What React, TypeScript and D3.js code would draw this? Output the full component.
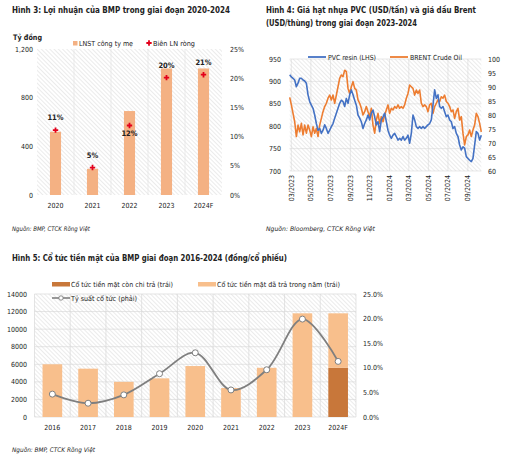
import React from 'react';
import * as d3 from 'd3';

// ---------- Chart 1 (Hình 3) ----------
const years1 = ['2020', '2021', '2022', '2023', '2024F'];
const profit1 = [520, 215, 690, 1040, 1040];
const margin1 = [11.1, 4.7, 11.9, 20.1, 20.6];
const marginLabels1 = ['11%', '5%', '12%', '20%', '21%'];
const marginLabelBelow1 = [false, false, true, false, false];
const leftTicks1 = [0, 400, 800, 1200];
const rightTicks1 = [0, 5, 10, 15, 20, 25];

// ---------- Chart 2 (Hình 4) ----------
const seriesStart2 = '2023-02-24';
const stepDays2 = 5.19;
const pvc2 = [
  915, 910, 907, 903, 888, 896, 907, 907, 903, 901, 896, 870, 855, 847, 840, 825, 806, 791, 795, 784,
  791, 803, 795, 784, 791, 799, 806, 818, 829, 840, 851, 858, 855, 844, 862, 851, 870, 881, 870, 858,
  847, 825, 818, 810, 795, 806, 814, 825, 814, 829, 836, 821, 803, 810, 788, 814, 821, 829, 810, 791,
  780, 773, 780, 784, 777, 769, 773, 769, 777, 769, 773, 780, 762, 784, 825, 814, 799, 795, 799, 795,
  799, 795, 799, 803, 806, 814, 847, 881, 862, 870, 844, 840, 844, 832, 821, 825, 814, 810, 795, 799,
  784, 777, 758, 747, 754, 751, 732, 728, 724, 721, 728, 758, 788, 784, 769, 780,
];
const brent2 = [
  86.3, 83.6, 80.6, 77.6, 72.3, 76.4, 74, 77, 72.9, 76.4, 73.5, 76.4, 74.6, 72.3, 75.8, 73.5, 75.2, 72.3, 76.4, 78.8,
  81.2, 83, 84.2, 86, 87.1, 85.4, 87.1, 84.2, 87.1, 90.1, 93.1, 94.3, 93.7, 96, 95.5, 89.5, 87.7, 90.1, 91.9, 89.5,
  88.9, 85.4, 84.2, 82.4, 80, 81.2, 83, 81.2, 79.4, 82.4, 76.4, 73.5, 78.2, 80.6, 77, 79.4, 77.6, 80, 81.8, 83.6,
  80.6, 82.4, 81.8, 83, 82.4, 83.6, 82.4, 83, 82.4, 83.6, 86, 87.7, 90.7, 90.1, 89.5, 87.1, 88.9, 87.7, 88.9, 84.2,
  83, 83.6, 83, 81.2, 83.6, 84.2, 80.6, 83, 84.2, 85.4, 84.8, 86.5, 86, 87.1, 84.8, 84.2, 83, 81.2, 81.8, 78.8,
  81.2, 82.4, 78.2, 79.4, 73.5, 69.3, 72.3, 72.9, 74.6, 72.3, 74.6, 76.4, 80.6, 79.4, 77, 74,
];
const leftTicks2 = [700, 750, 800, 850, 900, 950];
const rightTicks2 = [60, 65, 70, 75, 80, 85, 90, 95, 100];
const monthTicks2 = ['2023-03-01', '2023-05-01', '2023-07-01', '2023-09-01', '2023-11-01', '2024-01-01', '2024-03-01', '2024-05-01', '2024-07-01', '2024-09-01'];

// ---------- Chart 3 (Hình 5) ----------
const years3 = ['2016', '2017', '2018', '2019', '2020', '2021', '2022', '2023', '2024F'];
const remaining3 = [0, 0, 0, 0, 0, 0, 0, 0, 5600];
const paid3 = [6000, 5500, 4000, 4400, 5800, 3300, 5600, 11800, 6200];
const yield3 = [4.65, 2.8, 4.5, 8.8, 13.05, 5.5, 9.6, 19.9, 11.3];
const leftTicks3 = [0, 2000, 4000, 6000, 8000, 10000, 12000, 14000];
const rightTicks3 = [0, 5, 10, 15, 20, 25];

const FONT = "'Liberation Sans Narrow','DejaVu Sans Condensed',Roboto,'Noto Sans',sans-serif";
const TXT = '#222';
const GRID = '#d9d9d9';

function Hatch({ id }: { id: string }) {
  return (
    <pattern id={id} width="3" height="3" patternUnits="userSpaceOnUse" patternTransform="rotate(-45)">
      <rect width="3" height="3" fill="#ffffff" />
      <line x1="0" y1="0" x2="0" y2="3" stroke="#d4d4d4" strokeWidth="0.9" />
    </pattern>
  );
}

function Chart1() {
  const L = 37, R = 222, T = 49, B = 195;
  const x = d3.scaleBand<string>().domain(years1).range([L, R]);
  const y = d3.scaleLinear().domain([0, 1200]).range([B, T]);
  const yr = d3.scaleLinear().domain([0, 25]).range([B, T]);
  const bw = x.bandwidth() * 0.3;
  const marker = d3.symbol().type(d3.symbolCross).size(16)() as string;
  return (
    <g>
      <text x={12} y={13} fontSize={8.5} fontWeight="bold" fill={TXT} fontFamily={FONT} textLength={218} lengthAdjust="spacingAndGlyphs">Hình 3: Lợi nhuận của BMP trong giai đoạn 2020-2024</text>
      <rect x={L} y={T} width={R - L} height={B - T} fill="url(#hatch1)" />
      {years1.slice(1).map((d) => (
        <line key={d} x1={x(d)!} x2={x(d)!} y1={T} y2={B} stroke="#e6e6e6" strokeWidth={0.8} />
      ))}
      <text x={13} y={39.5} fontSize={7.5} fontWeight="bold" fill={TXT} fontFamily={FONT} textLength={29} lengthAdjust="spacingAndGlyphs">Tỷ đồng</text>
      <rect x={73} y={41} width={4.5} height={4.5} fill="#F4B183" />
      <text x={79} y={45.5} fontSize={7} fill={TXT} fontFamily={FONT} textLength={54} lengthAdjust="spacingAndGlyphs">LNST công ty mẹ</text>
      <path d={marker} transform="translate(149,43)" fill="#E3001B" />
      <text x={153} y={45.5} fontSize={7} fill={TXT} fontFamily={FONT} textLength={42} lengthAdjust="spacingAndGlyphs">Biên LN ròng</text>
      {profit1.map((v, i) => (
        <rect key={i} x={x(years1[i])! + x.bandwidth() / 2 - bw / 2} y={y(v)} width={bw} height={B - y(v)} fill="#F4B183" />
      ))}
      {margin1.map((v, i) => {
        const cx = x(years1[i])! + x.bandwidth() / 2;
        const cy = yr(v);
        return (
          <g key={i}>
            <path d={marker} transform={`translate(${cx},${cy})`} fill="#E3001B" />
            <text x={cx} y={marginLabelBelow1[i] ? cy + 10 : cy - 10} textAnchor="middle" fontSize={7.5} fontWeight="bold" fill={TXT} fontFamily={FONT}>{marginLabels1[i]}</text>
          </g>
        );
      })}
      {leftTicks1.map((t) => (
        <text key={t} x={33} y={y(t) + 2.5} textAnchor="end" fontSize={7} fill={TXT} fontFamily={FONT}>{d3.format(',')(t)}</text>
      ))}
      {rightTicks1.map((t) => (
        <text key={t} x={230} y={yr(t) + 2.5} fontSize={7} fill={TXT} fontFamily={FONT}>{t + '%'}</text>
      ))}
      {years1.map((d) => (
        <text key={d} x={x(d)! + x.bandwidth() / 2} y={207.5} textAnchor="middle" fontSize={7} fill={TXT} fontFamily={FONT}>{d}</text>
      ))}
      <text x={12} y={230.5} fontSize={6.3} fontStyle="italic" fill={TXT} fontFamily={FONT} textLength={78} lengthAdjust="spacingAndGlyphs">Nguồn: BMP, CTCK Rồng Việt</text>
    </g>
  );
}

function Chart2() {
  const L = 289.7, R = 481.3, T = 59, B = 171;
  const start = new Date(seriesStart2 + 'T00:00:00');
  const dates = pvc2.map((_, i) => new Date(start.getTime() + i * stepDays2 * 86400000));
  const x = d3.scaleTime().domain([dates[0], dates[dates.length - 1]]).range([L, R]);
  const y = d3.scaleLinear().domain([700, 950]).range([B, T]);
  const yr = d3.scaleLinear().domain([60, 100]).range([B, T]);
  const linePvc = d3.line<number>().x((_, i) => x(dates[i])).y((v) => y(v));
  const lineBrent = d3.line<number>().x((_, i) => x(dates[i])).y((v) => yr(v));
  const ticks = monthTicks2.map((s) => new Date(s + 'T00:00:00'));
  const fmt = d3.timeFormat('%m/%Y');
  return (
    <g>
      <text x={266} y={12.5} fontSize={8.5} fontWeight="bold" fill={TXT} fontFamily={FONT} textLength={210} lengthAdjust="spacingAndGlyphs">Hình 4: Giá hạt nhựa PVC (USD/tấn) và giá dầu Brent</text>
      <text x={266} y={26} fontSize={8.5} fontWeight="bold" fill={TXT} fontFamily={FONT} textLength={151} lengthAdjust="spacingAndGlyphs">(USD/thùng) trong giai đoạn 2023-2024</text>
      <rect x={L} y={T} width={R - L} height={B - T} fill="url(#hatch1)" />
      {leftTicks2.map((t) => (
        <line key={t} x1={L} x2={R} y1={y(t)} y2={y(t)} stroke={GRID} strokeWidth={0.6} />
      ))}
      {ticks.map((t, i) => (
        <line key={i} x1={x(t)} x2={x(t)} y1={T} y2={B} stroke={GRID} strokeWidth={0.6} />
      ))}
      <path d={lineBrent(brent2)!} fill="none" stroke="#ED7D31" strokeWidth={1.6} strokeLinejoin="round" />
      <path d={linePvc(pvc2)!} fill="none" stroke="#4472C4" strokeWidth={1.6} strokeLinejoin="round" />
      <line x1={308} x2={326} y1={57} y2={57} stroke="#4472C4" strokeWidth={1.8} />
      <text x={328} y={59.5} fontSize={7} fill={TXT} fontFamily={FONT} textLength={48} lengthAdjust="spacingAndGlyphs">PVC resin (LHS)</text>
      <line x1={390} x2={408} y1={57} y2={57} stroke="#ED7D31" strokeWidth={1.8} />
      <text x={410} y={59.5} fontSize={7} fill={TXT} fontFamily={FONT} textLength={52} lengthAdjust="spacingAndGlyphs">BRENT Crude Oil</text>
      {leftTicks2.map((t) => (
        <text key={t} x={281} y={y(t) + 2.5} textAnchor="end" fontSize={7} fill={TXT} fontFamily={FONT}>{t}</text>
      ))}
      {rightTicks2.map((t) => (
        <text key={t} x={488} y={yr(t) + 2.5} fontSize={7} fill={TXT} fontFamily={FONT}>{t}</text>
      ))}
      {ticks.map((t, i) => (
        <text key={i} transform={`translate(${x(t) + 2.4},175) rotate(-90)`} textAnchor="end" fontSize={7} fill={TXT} fontFamily={FONT}>{fmt(t)}</text>
      ))}
      <text x={266} y={230.5} fontSize={6.3} fontStyle="italic" fill={TXT} fontFamily={FONT} textLength={109} lengthAdjust="spacingAndGlyphs">Nguồn: Bloomberg, CTCK Rồng Việt</text>
    </g>
  );
}

function Chart3() {
  const L = 34.5, R = 356, T = 294, B = 417;
  const x = d3.scaleBand<string>().domain(years3).range([L, R]);
  const y = d3.scaleLinear().domain([0, 14000]).range([B, T]);
  const yr = d3.scaleLinear().domain([0, 25]).range([B, T]);
  const bw = x.bandwidth() * 0.55;
  const cx = (d: string) => x(d)! + x.bandwidth() / 2;
  const line = d3.line<number>().x((_, i) => cx(years3[i])).y((v) => yr(v)).curve(d3.curveCatmullRom.alpha(0.5));
  return (
    <g>
      <text x={12} y={261} fontSize={8.5} fontWeight="bold" fill={TXT} fontFamily={FONT} textLength={275} lengthAdjust="spacingAndGlyphs">Hình 5: Cổ tức tiền mặt của BMP giai đoạn 2016-2024 (đồng/cổ phiếu)</text>
      <rect x={L} y={T} width={R - L} height={B - T} fill="url(#hatch1)" />
      {leftTicks3.map((t) => (
        <line key={t} x1={L} x2={R} y1={y(t)} y2={y(t)} stroke={GRID} strokeWidth={0.7} />
      ))}
      {years3.map((d) => (
        <line key={d} x1={x(d)!} x2={x(d)!} y1={T} y2={B} stroke={GRID} strokeWidth={0.7} />
      ))}
      <line x1={R} x2={R} y1={T} y2={B} stroke={GRID} strokeWidth={0.7} />
      {years3.map((d, i) => (
        <g key={d}>
          {remaining3[i] > 0 && (
            <rect x={cx(d) - bw / 2} y={y(remaining3[i])} width={bw} height={B - y(remaining3[i])} fill="#C8773A" />
          )}
          <rect x={cx(d) - bw / 2} y={y(remaining3[i] + paid3[i])} width={bw} height={y(remaining3[i]) - y(remaining3[i] + paid3[i])} fill="#F8BF8C" />
        </g>
      ))}
      <path d={line(yield3)!} fill="none" stroke="#7F7F7F" strokeWidth={1.8} />
      {yield3.map((v, i) => (
        <circle key={i} cx={cx(years3[i])} cy={yr(v)} r={3} fill="#fff" stroke="#7F7F7F" strokeWidth={1} />
      ))}
      <rect x={52} y={282} width={18} height={4.5} fill="#C8773A" />
      <text x={71} y={286.5} fontSize={7} fill={TXT} fontFamily={FONT} textLength={102} lengthAdjust="spacingAndGlyphs">Cổ tức tiền mặt còn chi trả (trái)</text>
      <rect x={198} y={282} width={18} height={4.5} fill="#F8BF8C" />
      <text x={217} y={286.5} fontSize={7} fill={TXT} fontFamily={FONT} textLength={123} lengthAdjust="spacingAndGlyphs">Cổ tức tiền mặt đã trả trong năm (trái)</text>
      <line x1={52} x2={70} y1={298} y2={298} stroke="#7F7F7F" strokeWidth={1.6} />
      <circle cx={61} cy={298} r={2.2} fill="#fff" stroke="#7F7F7F" strokeWidth={0.9} />
      <text x={71} y={300.5} fontSize={7} fill={TXT} fontFamily={FONT} textLength={66} lengthAdjust="spacingAndGlyphs">Tỷ suất cổ tức (phải)</text>
      {leftTicks3.map((t) => (
        <text key={t} x={27} y={y(t) + 2.5} textAnchor="end" fontSize={7} fill={TXT} fontFamily={FONT}>{t}</text>
      ))}
      {rightTicks3.map((t) => (
        <text key={t} x={363} y={yr(t) + 2.5} fontSize={7} fill={TXT} fontFamily={FONT}>{d3.format('.1f')(t) + '%'}</text>
      ))}
      {years3.map((d) => (
        <text key={d} x={cx(d)} y={430} textAnchor="middle" fontSize={7} fill={TXT} fontFamily={FONT}>{d}</text>
      ))}
      <text x={12} y={451.5} fontSize={6.3} fontStyle="italic" fill={TXT} fontFamily={FONT} textLength={83} lengthAdjust="spacingAndGlyphs">Nguồn: BMP, CTCK Rồng Việt</text>
    </g>
  );
}

export default function App() {
  return (
    <svg width={519} height={470} style={{ position: 'absolute', left: 0, top: 0, background: '#fff' }}>
      <defs>
        <Hatch id="hatch1" />
      </defs>
      <rect width={519} height={470} fill="#fff" />
      <Chart1 />
      <Chart2 />
      <Chart3 />
    </svg>
  );
}
